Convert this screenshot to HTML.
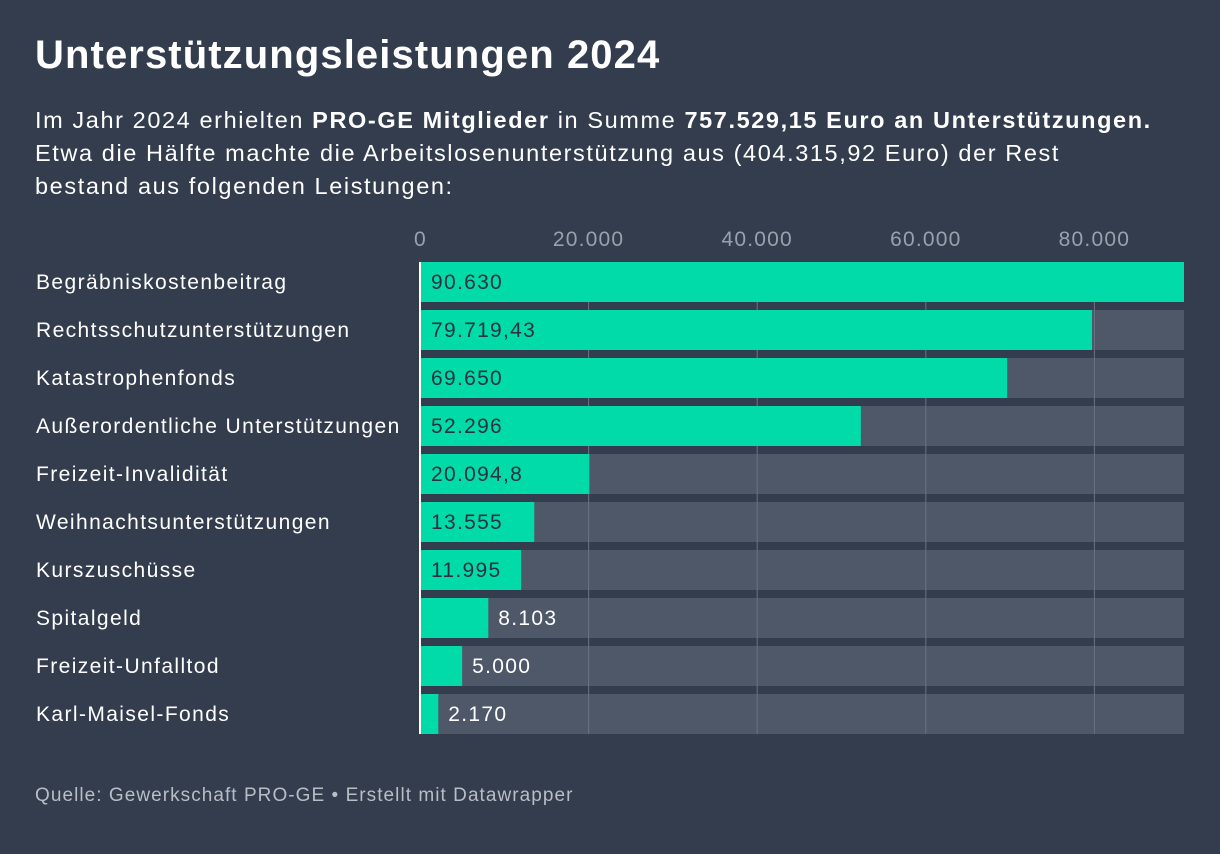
<!DOCTYPE html>
<html><head><meta charset="utf-8">
<style>
body{margin:0;width:1220px;height:854px;background:#333d4e;font-family:"Liberation Sans",sans-serif;color:#fff;overflow:hidden;position:relative}
#title{position:absolute;left:35px;top:33px;font-size:40px;font-weight:bold;margin:0;letter-spacing:1.1px}
#sub{position:absolute;left:35px;top:104px;font-size:23.5px;line-height:33px;width:1190px;letter-spacing:1.6px}
#src{position:absolute;left:35px;top:785px;font-size:19px;color:#b8bdc6;letter-spacing:1.05px}
svg{position:absolute;left:0;top:0}
</style></head><body>
<h1 id="title">Unterstützungsleistungen 2024</h1>
<div id="sub">Im Jahr 2024 erhielten <b>PRO-GE Mitglieder</b> in Summe <b>757.529,15 Euro an Unterstützungen.</b><br>Etwa die Hälfte machte die Arbeitslosenunterstützung aus (404.315,92 Euro) der Rest<br>bestand aus folgenden Leistungen:</div>
<svg id="chart" width="1220" height="854"></svg>
<div id="src">Quelle: Gewerkschaft PRO-GE • Erstellt mit Datawrapper</div>
<script>
const categories=["Begräbniskostenbeitrag","Rechtsschutzunterstützungen","Katastrophenfonds","Außerordentliche Unterstützungen","Freizeit-Invalidität","Weihnachtsunterstützungen","Kurszuschüsse","Spitalgeld","Freizeit-Unfalltod","Karl-Maisel-Fonds"];
const values=[90630,79719.43,69650,52296,20094.8,13555,11995,8103,5000,2170];
const valueLabels=["90.630","79.719,43","69.650","52.296","20.094,8","13.555","11.995","8.103","5.000","2.170"];
const ticks=[0,20000,40000,60000,80000];
const tickLabels=["0","20.000","40.000","60.000","80.000"];
const maxV=90630;
const svg=document.getElementById('chart');
const NS='http://www.w3.org/2000/svg';
const x0=420,x1=1184;
const x=v=>x0+(x1-x0)*v/maxV;
const y=i=>262+i*48;
function mk(t,a){const e=document.createElementNS(NS,t);for(const k in a)e.setAttribute(k,a[k]);svg.appendChild(e);return e;}
categories.forEach((c,i)=>{
  const bg=mk('rect',{x:x0,y:y(i),width:x1-x0,height:40,fill:'#4f5868'});
  
  
});
ticks.forEach((t,i)=>{
  if(t>0){const l=mk('line',{x1:x(t),x2:x(t),y1:262,y2:734,stroke:'#6a7282','stroke-width':1});
  
  }
  const tx=mk('text',{x:x(t),y:246,'text-anchor':t===0?'start':'middle',fill:'#9aa1ad','font-size':21,'letter-spacing':1.2,'font-family':'Liberation Sans, sans-serif'});
  if(t===0)tx.setAttribute('x',x(t)-6);
  tx.textContent=tickLabels[i];
  
  
});
categories.forEach((c,i)=>{
  const w=x(values[i])-x0;
  const b=mk('rect',{x:x0,y:y(i),width:w,height:40,fill:'#00dba9'});
  
  
  const lab=mk('text',{x:36,y:y(i)+27,fill:'#fff','font-size':21,'letter-spacing':1.4,'font-family':'Liberation Sans, sans-serif'});
  lab.textContent=c;
  
  
  const inside=w>90;
  const v=mk('text',{x:inside?x0+11:x0+w+10,y:y(i)+27,fill:inside?'#2a3140':'#fff','font-size':21,'letter-spacing':1.3,'font-family':'Liberation Sans, sans-serif'});
  v.textContent=valueLabels[i];
  
  
});
const z=mk('line',{x1:x0,x2:x0,y1:262,y2:734,stroke:'#fff','stroke-width':2});


</script>
</body></html>
